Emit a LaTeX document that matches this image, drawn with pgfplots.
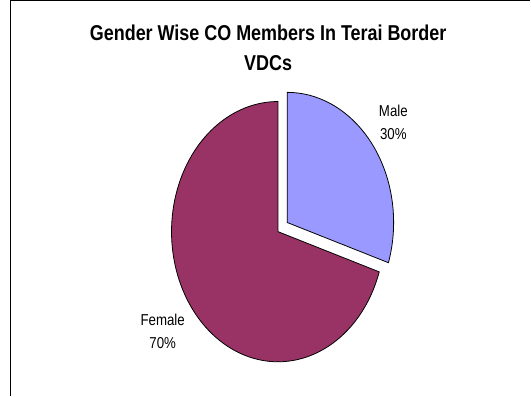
\documentclass[border=0pt]{standalone}
\usepackage{pgfplots}
\usepackage{pgfplotstable}
\pgfplotsset{compat=1.18}
\usepackage{fontspec}
\setmainfont{Liberation Sans}[FakeStretch=0.84]
\newfontfamily\titlefont{Liberation Sans}[FakeStretch=0.835]
\definecolor{femalecol}{HTML}{993366}
\definecolor{malecol}{HTML}{9999FF}

\pgfplotstableread{
label value
Male 30
Female 70
}\piedata

\begin{document}
\pgfplotstablegetelem{0}{value}\of\piedata \let\maleval=\pgfplotsretval
\pgfplotstablegetelem{1}{value}\of\piedata \let\femaleval=\pgfplotsretval
\pgfmathsetmacro\fstart{90}
\pgfmathsetmacro\fend{90+3.6*\femaleval}
\pgfmathsetmacro\mend{\fend+3.6*\maleval}
\begin{tikzpicture}
\path (0,0) rectangle (531pt,402pt);
\begin{axis}[at={(0,0)}, anchor=south west, scale only axis,
  width=531pt, height=402pt, xmin=0, xmax=531, ymin=0, ymax=402,
  hide axis, clip=false]
% Female slice
\addplot[fill=femalecol, draw=black, line width=0.8pt, domain=\fstart:\fend, samples=150, variable=\t]
  ({275+108*cos(\t)}, {167+132*sin(\t)}) -- (axis cs:275,167) -- cycle;
% Male slice (exploded)
\addplot[fill=malecol, draw=black, line width=0.8pt, domain=\fend:\mend, samples=80, variable=\t]
  ({284.3+108*cos(\t)}, {176.3+132*sin(\t)}) -- (axis cs:284.3,176.3) -- cycle;
% labels
\node[align=center, font=\fontsize{16}{24}\selectfont] at (axis cs:392,278) {Male\\\maleval\%};
\node[align=center, font=\fontsize{16}{24}\selectfont] at (axis cs:158,66) {Female\\\femaleval\%};
% title
\node[align=center, font=\titlefont\bfseries\fontsize{21.8}{31}\selectfont] at (axis cs:265,353.5) {Gender Wise CO Members In Terai Border\\VDCs};
% frame
\draw[line width=1.3pt] (axis cs:3.5,0) -- (axis cs:3.5,401.3) -- (axis cs:531,401.3);
\end{axis}
\end{tikzpicture}
\end{document}
